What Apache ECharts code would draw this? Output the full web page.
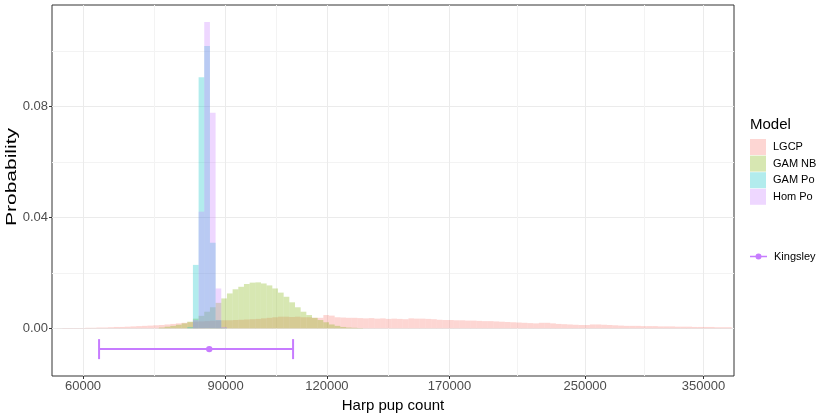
<!DOCTYPE html>
<html>
<head>
<meta charset="utf-8">
<script src="https://cdn.jsdelivr.net/npm/echarts@6/dist/echarts.min.js"></script>
<style>
  html, body { margin: 0; padding: 0; background: #fff; }
  #chart { width: 830px; height: 415px; }
</style>
</head>
<body>
<div id="chart"></div>
<script>
// histogram bins are equal width on log10(pup count)
const binStart = 4.74581
const binWidth = 0.007

const models = ['LGCP', 'GAM NB', 'GAM Po', 'Hom Po']
// index of the first bin each model's probabilities start at
const firstBin = { 'LGCP': 0, 'GAM NB': 18, 'GAM Po': 23, 'Hom Po': 24 }

const lgcp = [
  0.00005, 0.0001, 0.0001, 0.0001, 0.0001, 0.0002, 0.0002, 0.0003, 0.0003, 0.0004,
  0.0005, 0.0005, 0.0006, 0.0007, 0.0008, 0.0009, 0.0010, 0.0011, 0.0012, 0.0014,
  0.0016, 0.0018, 0.0020, 0.0022, 0.0024, 0.0025, 0.0026, 0.0027, 0.0028, 0.0029,
  0.0029, 0.0030, 0.0031, 0.0032, 0.0033, 0.0034, 0.0036, 0.0038, 0.0040, 0.0042,
  0.0042, 0.0041, 0.0042, 0.0040, 0.0040, 0.0038, 0.0038, 0.0048, 0.0046, 0.0040,
  0.0039, 0.0038, 0.0038, 0.0037, 0.0036, 0.0037, 0.0035, 0.0036, 0.0034, 0.0035,
  0.0034, 0.0033, 0.0036, 0.0035, 0.0035, 0.0034, 0.0033, 0.0031, 0.0030, 0.0030,
  0.0029, 0.0029, 0.0028, 0.0028, 0.0027, 0.0026, 0.0026, 0.0025, 0.0024, 0.0023,
  0.0022, 0.0021, 0.0020, 0.0019, 0.0018, 0.0020, 0.0020, 0.0018, 0.0016, 0.0015,
  0.0014, 0.0013, 0.0012, 0.0012, 0.0014, 0.0014, 0.0013, 0.0012, 0.0011, 0.0010,
  0.0009, 0.0009, 0.0009, 0.0008, 0.0008, 0.0008, 0.0007, 0.0007, 0.0007, 0.0006,
  0.0006, 0.0006, 0.0005, 0.0005, 0.0005, 0.0005, 0.0004, 0.0004, 0.0004
]
const gamNb = [
  0.0003, 0.0006, 0.0009, 0.0013, 0.0018, 0.0024, 0.0035, 0.0045, 0.0060, 0.0076,
  0.0092, 0.0108, 0.0126, 0.0141, 0.0150, 0.0160, 0.0165, 0.0166, 0.0162, 0.0155,
  0.0144, 0.0129, 0.0114, 0.0094, 0.0076, 0.0060, 0.0048, 0.0038, 0.0030, 0.0022,
  0.0014, 0.0009, 0.0005, 0.0003, 0.0002, 0.0001
]
const gamPo = [0.0005, 0.0229, 0.0906, 0.1019, 0.0309, 0.0030, 0.0002]
const homPo = [0.0030, 0.0421, 0.1106, 0.0778, 0.0144, 0.0005]

// Kingsley estimate with interval
const kingsley = { low: 62800, est: 85900, high: 109000 }
const kingsleyY = -0.0075

const xTicks = [60000, 90000, 120000, 170000, 250000, 350000]
const yTicks = [0, 0.04, 0.08]
const yMinor = [0.02, 0.06, 0.10]

const colors = ['#F8766D', '#7CAE00', '#00BFC4', '#C77CFF']
const seriesValues = [lgcp, gamNb, gamPo, homPo]
const font = 'Liberation Sans, Arial, Helvetica, sans-serif'

function rgba(hex, a) {
  const n = parseInt(hex.slice(1), 16)
  return 'rgba(' + (n >> 16) + ',' + ((n >> 8) & 255) + ',' + (n & 255) + ',' + a + ')'
}

const xTickLog = xTicks.map(v => Math.log10(v))
const xMinorLog = []
for (let i = 0; i < xTickLog.length - 1; i++) {
  xMinorLog.push((xTickLog[i] + xTickLog[i + 1]) / 2)
}

function histSeries(name, values, color) {
  const fill = rgba(color, 0.3)
  const data = values.map((p, i) => {
    const x0 = binStart + (firstBin[name] + i) * binWidth
    return [x0, x0 + binWidth, p]
  })
  return {
    name: name,
    type: 'custom',
    data: data,
    itemStyle: { color: fill },
    encode: { x: [0, 1], y: 2 },
    renderItem: function (params, api) {
      const a = api.coord([api.value(0), api.value(2)])
      const b = api.coord([api.value(1), 0])
      const rect = echarts.graphic.clipRectByRect(
        { x: a[0], y: a[1], width: b[0] - a[0], height: b[1] - a[1] },
        { x: params.coordSys.x, y: params.coordSys.y, width: params.coordSys.width, height: params.coordSys.height }
      )
      return rect && { type: 'rect', shape: rect, style: { fill: fill } }
    }
  }
}

const series = models.map((m, i) => histSeries(m, seriesValues[i], colors[i]))

series.push({
  name: 'Kingsley',
  type: 'custom',
  itemStyle: { color: '#C77CFF' },
  data: [[Math.log10(kingsley.low), Math.log10(kingsley.high), Math.log10(kingsley.est), kingsleyY]],
  encode: { x: [0, 1, 2], y: 3 },
  renderItem: function (params, api) {
    const lo = api.coord([api.value(0), api.value(3)])
    const hi = api.coord([api.value(1), api.value(3)])
    const mid = api.coord([api.value(2), api.value(3)])
    const st = { stroke: '#C77CFF', lineWidth: 2 }
    return {
      type: 'group',
      children: [
        { type: 'line', shape: { x1: lo[0], y1: lo[1], x2: hi[0], y2: hi[1] }, style: st },
        { type: 'line', shape: { x1: lo[0], y1: lo[1] - 10, x2: lo[0], y2: lo[1] + 10 }, style: st },
        { type: 'line', shape: { x1: hi[0], y1: hi[1] - 10, x2: hi[0], y2: hi[1] + 10 }, style: st },
        { type: 'circle', shape: { cx: mid[0], cy: mid[1], r: 3.2 }, style: { fill: '#C77CFF' } }
      ]
    }
  }
})

const chart = echarts.init(document.getElementById('chart'))
chart.setOption({
  animation: false,
  textStyle: { fontFamily: font },
  grid: {
    left: 52, right: 96, top: 5, bottom: 39, outerBoundsMode: 'none', containLabel: false,
    show: true, borderColor: '#333333', borderWidth: 1, backgroundColor: 'transparent'
  },
  xAxis: [
    {
      type: 'value', min: 4.73987, max: 5.58168,
      name: 'Harp pup count', nameLocation: 'middle', nameGap: 20,
      nameTextStyle: { color: '#000', fontSize: 15, fontFamily: font },
      axisLine: { show: false, onZero: false },
      axisTick: { show: true, length: 3, lineStyle: { color: '#333' }, customValues: xTickLog },
      axisLabel: {
        customValues: xTickLog, color: '#4D4D4D', fontSize: 13, margin: 4, fontFamily: font,
        formatter: v => String(Math.round(Math.pow(10, v)))
      },
      splitLine: { show: true, lineStyle: { color: '#EBEBEB', width: 1 } }
    },
    {
      type: 'value', min: 4.73987, max: 5.58168, position: 'bottom',
      axisLine: { show: false, onZero: false },
      axisTick: { show: false, customValues: xMinorLog },
      axisLabel: { show: false },
      splitLine: { show: true, lineStyle: { color: '#F3F3F3', width: 1 } }
    }
  ],
  yAxis: [
    {
      type: 'value', min: -0.0172, max: 0.1167,
      axisLine: { show: false, onZero: false },
      axisTick: { show: true, length: 3, lineStyle: { color: '#333' }, customValues: yTicks },
      axisLabel: {
        customValues: yTicks, color: '#4D4D4D', fontSize: 13, margin: 4, fontFamily: font,
        formatter: v => v.toFixed(2)
      },
      splitLine: { show: true, lineStyle: { color: '#EBEBEB', width: 1 } }
    },
    {
      type: 'value', min: -0.0172, max: 0.1167, position: 'left',
      axisLine: { show: false, onZero: false },
      axisTick: { show: false, customValues: yMinor },
      axisLabel: { show: false },
      splitLine: { show: true, lineStyle: { color: '#F3F3F3', width: 1 } }
    }
  ],
  legend: [
    {
      orient: 'vertical', left: 750, top: 139, padding: 0,
      itemWidth: 16, itemHeight: 16, itemGap: 0.6,
      icon: 'rect',
      data: models,
      textStyle: { fontSize: 11, color: '#000', fontFamily: font, padding: [0, 0, 0, 2] },
      selectedMode: false
    },
    {
      orient: 'vertical', left: 750, top: 251, padding: 0,
      itemWidth: 17, itemHeight: 6,
      data: [{ name: 'Kingsley', icon: 'path://M0,2.2L17,2.2L17,3.8L0,3.8Z M5.5,3A3,3 0 1,1 11.5,3A3,3 0 1,1 5.5,3Z' }],
      textStyle: { fontSize: 11, color: '#000', fontFamily: font, padding: [0, 0, 0, 2] },
      selectedMode: false
    }
  ],
  graphic: [
    { type: 'text', left: 750, top: 117, style: { text: 'Model', fontSize: 15, fill: '#000', fontFamily: font } },
    {
      type: 'text', x: 12, y: 177, rotation: Math.PI / 2, scaleX: 1.4,
      style: { text: 'Probability', fontSize: 15, fill: '#000', fontFamily: font, align: 'center', verticalAlign: 'middle' }
    }
  ],
  series: series.map(s => Object.assign(s, { xAxisIndex: 0, yAxisIndex: 0 }))
})
</script>
</body>
</html>
